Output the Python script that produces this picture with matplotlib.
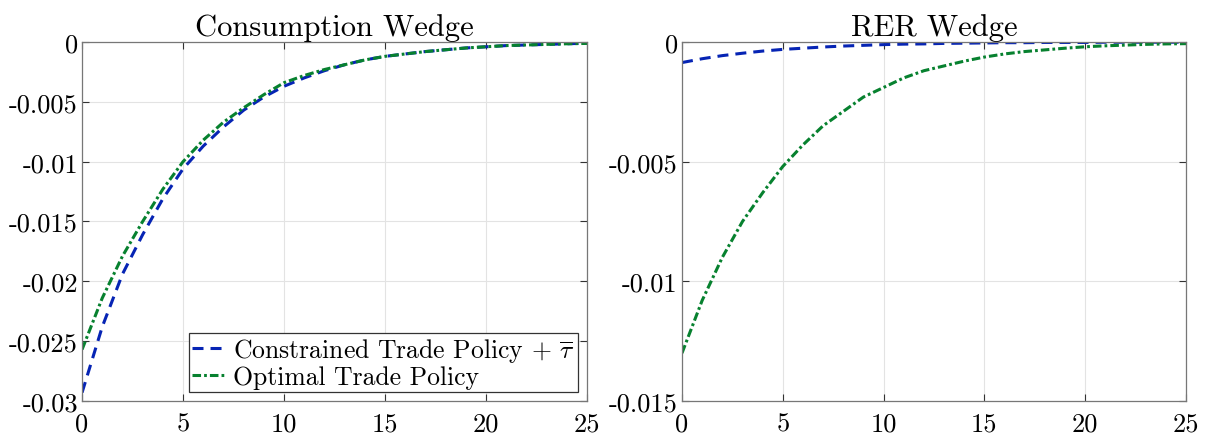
import matplotlib
matplotlib.use('Agg')
import matplotlib.pyplot as plt

plt.rcParams['font.family'] = ['cmr10', 'DejaVu Serif']
plt.rcParams['mathtext.fontset'] = 'cm'
plt.rcParams['axes.unicode_minus'] = False
plt.rcParams['axes.formatter.use_mathtext'] = True

periods = list(range(26))

# consumption wedge
cons_constrained = [-0.0293, -0.0238, -0.0194, -0.0161, -0.0131, -0.0106, -0.0087, -0.0071, -0.0057,
                    -0.0046, -0.0037, -0.0030, -0.0024, -0.0019, -0.0015, -0.0012, -0.0010, -0.0008,
                    -0.00065, -0.0005, -0.0004, -0.0003, -0.00025, -0.0002, -0.00015, -0.0001]
cons_optimal = [-0.0257, -0.0214, -0.0179, -0.0150, -0.0123, -0.0100, -0.0082, -0.0067, -0.0055,
                -0.0044, -0.0034, -0.0028, -0.0023, -0.0019, -0.0015, -0.0012, -0.0010, -0.0008,
                -0.00065, -0.0005, -0.0004, -0.0003, -0.00025, -0.0002, -0.00015, -0.00012]

# real exchange rate wedge
rer_constrained = [-0.00086, -0.0007, -0.00057, -0.00047, -0.00038, -0.00031, -0.00026, -0.00021,
                   -0.00017, -0.00014, -0.00011, -0.00009, -0.00008, -0.00006, -0.00005, -0.00004,
                   -0.00003, -0.00003, -0.00002, -0.00002, -0.00002, -0.00001, -0.00001, -0.00001,
                   -0.00001, -0.00001]
rer_optimal = [-0.0130, -0.0108, -0.0090, -0.0075, -0.0063, -0.0052, -0.0043, -0.0035, -0.0029,
               -0.0023, -0.0019, -0.0015, -0.0012, -0.0010, -0.0008, -0.00063, -0.0005, -0.0004,
               -0.00033, -0.00026, -0.0002, -0.00016, -0.00013, -0.0001, -0.00008, -0.00007]

titles = ['Consumption Wedge', 'RER Wedge']
x_ticks = [0, 5, 10, 15, 20, 25]
cons_yticks = [0, -0.005, -0.01, -0.015, -0.02, -0.025, -0.03]
cons_ylabels = ['0', '-0.005', '-0.01', '-0.015', '-0.02', '-0.025', '-0.03']
rer_yticks = [0, -0.005, -0.01, -0.015]
rer_ylabels = ['0', '-0.005', '-0.01', '-0.015']

label_constrained = r'Constrained Trade Policy + $\overline{\tau}$'
label_optimal = 'Optimal Trade Policy'

blue = '#0624b4'
green = '#07812f'
lw = 2.2
dash_blue = (3.6, 2.3)
dash_green = (2.8, 1.0, 0.9, 1.0)


def style_axes(ax, title, yticks, ylabels, ymin):
    ax.set_xlim(0, 25)
    ax.set_ylim(ymin, 0)
    ax.set_xticks(x_ticks)
    ax.set_xticklabels([str(t) for t in x_ticks])
    ax.set_yticks(yticks)
    ax.set_yticklabels(ylabels)
    ax.grid(True, color='#e3e3e3', linewidth=0.8)
    ax.set_axisbelow(True)
    ax.tick_params(direction='in', top=True, right=True, length=5, width=0.8,
                   color='#333333', labelsize=19)
    ax.tick_params(axis='y', pad=3)
    ax.tick_params(axis='x', pad=8)
    for s in ax.spines.values():
        s.set_color('#777777')
        s.set_linewidth(0.9)
    ax.set_title(title, fontsize=22, pad=5)


fig = plt.figure(figsize=(12.12, 4.39), dpi=100)
ax1 = fig.add_axes([0.0677, 0.0843, 0.4167, 0.8178])
ax2 = fig.add_axes([0.5627, 0.0843, 0.4159, 0.8178])

ax1.plot(periods, cons_constrained, '--', color=blue, linewidth=lw, dashes=dash_blue, label=label_constrained)
ax1.plot(periods, cons_optimal, '-.', color=green, linewidth=lw, dashes=dash_green, label=label_optimal)
style_axes(ax1, titles[0], cons_yticks, cons_ylabels, -0.03)
leg = ax1.legend(loc='lower right', fontsize=18.5, handlelength=1.3, handletextpad=0.3,
                 borderpad=0.12, labelspacing=0.05, fancybox=False, framealpha=1,
                 borderaxespad=0.35)
leg.get_frame().set_edgecolor('#333333')
leg.get_frame().set_linewidth(0.9)

ax2.plot(periods, rer_constrained, '--', color=blue, linewidth=lw, dashes=dash_blue)
ax2.plot(periods, rer_optimal, '-.', color=green, linewidth=lw, dashes=dash_green)
style_axes(ax2, titles[1], rer_yticks, rer_ylabels, -0.015)

fig.savefig('out.png', dpi=100)
